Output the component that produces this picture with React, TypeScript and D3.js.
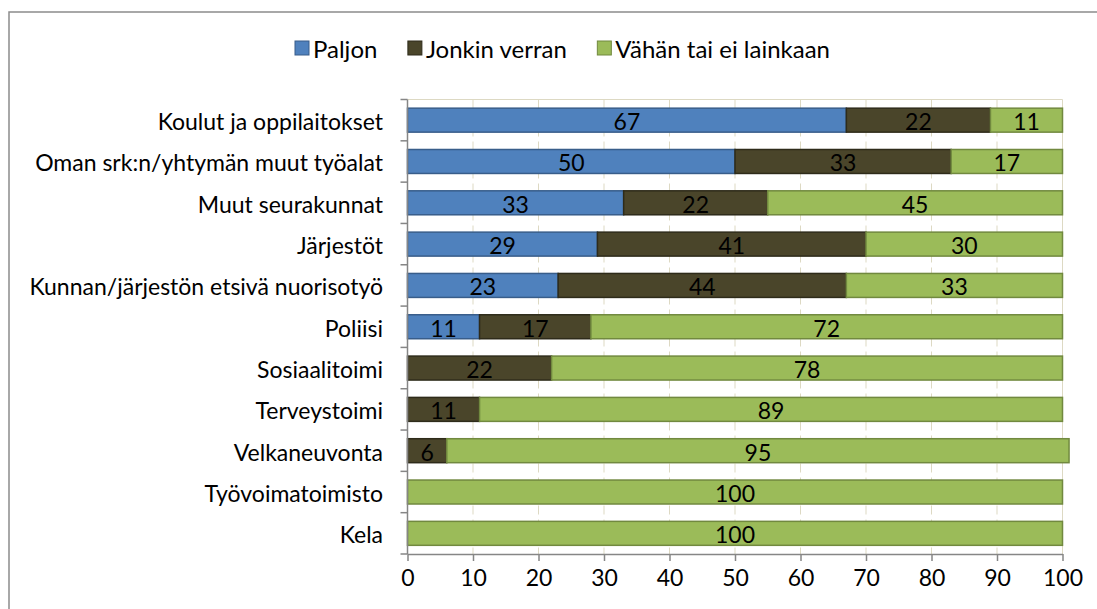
import { useEffect, useRef } from 'react';
import * as d3 from 'd3';

const categories = [
  'Koulut ja oppilaitokset',
  'Oman srk:n/yhtymän muut työalat',
  'Muut seurakunnat',
  'Järjestöt',
  'Kunnan/järjestön etsivä nuorisotyö',
  'Poliisi',
  'Sosiaalitoimi',
  'Terveystoimi',
  'Velkaneuvonta',
  'Työvoimatoimisto',
  'Kela',
];
const seriesNames = ['Paljon', 'Jonkin verran', 'Vähän tai ei lainkaan'];
const paljon = [67, 50, 33, 29, 23, 11, 0, 0, 0, 0, 0];
const jonkinVerran = [22, 33, 22, 41, 44, 17, 22, 11, 6, 0, 0];
const vahan = [11, 17, 45, 30, 33, 72, 78, 89, 95, 100, 100];
const xTicks = [0, 10, 20, 30, 40, 50, 60, 70, 80, 90, 100];

const fills = ['#4F81BD', '#4A452A', '#9BBB59'];
const strokes = ['#385D8A', '#2E2B1A', '#71893F'];
const FONT = 'Lato, "Open Sans", sans-serif';
const FS = 23;

function App() {
  const svgRef = useRef(null);

  useEffect(() => {
    const width = 1097;
    const height = 609;
    const margin = { left: 407.5, right: 1062.5, top: 99.5, bottom: 554 };

    d3.select(svgRef.current).selectAll('*').remove();
    const svg = d3.select(svgRef.current)
      .attr('width', width)
      .attr('height', height)
      .style('font-family', FONT);

    svg.append('rect')
      .attr('x', 9).attr('y', 12)
      .attr('width', 1200).attr('height', 700)
      .attr('fill', 'white')
      .attr('stroke', '#8c8c8c')
      .attr('stroke-width', 1.5);

    const rows = categories.map((c, i) => ({ category: c, values: [paljon[i], jonkinVerran[i], vahan[i]] }));

    const x = d3.scaleLinear().domain([0, 100]).range([margin.left, margin.right]);
    const y = d3.scaleBand().domain(categories).range([margin.top, margin.bottom]).paddingInner(0.42).paddingOuter(0.21);

    // plot area outline + dashed gridlines
    svg.append('path')
      .attr('d', `M${x(0)},${margin.top}H${x(100)}V${margin.bottom}`)
      .attr('fill', 'none')
      .attr('stroke', '#DDD9C3')
      .attr('stroke-width', 1);

    svg.append('g')
      .selectAll('line')
      .data(xTicks.slice(1, -1))
      .join('line')
      .attr('x1', d => x(d)).attr('x2', d => x(d))
      .attr('y1', margin.top).attr('y2', margin.bottom)
      .attr('stroke', '#DDD9C3')
      .attr('stroke-dasharray', '9,5');

    // stacked bars
    const rowG = svg.append('g')
      .selectAll('g.row')
      .data(rows)
      .join('g')
      .attr('class', 'row');

    rowG.each(function (d) {
      const g = d3.select(this);
      let acc = 0;
      d.values.forEach((v, k) => {
        const x0 = acc;
        acc += v;
        if (v <= 0) return;
        g.append('rect')
          .attr('x', x(x0))
          .attr('y', y(d.category))
          .attr('width', x(x0 + v) - x(x0))
          .attr('height', y.bandwidth())
          .attr('fill', fills[k])
          .attr('stroke', strokes[k])
          .attr('stroke-width', 1.5);
        g.append('text')
          .attr('x', (x(x0) + x(x0 + v)) / 2)
          .attr('y', y(d.category) + y.bandwidth() / 2 + 1)
          .attr('text-anchor', 'middle')
          .attr('dominant-baseline', 'central')
          .attr('font-size', FS)
          .attr('fill', '#000')
          .text(v);
      });
    });

    // x axis
    const xAxis = svg.append('g')
      .attr('transform', `translate(0, ${margin.bottom})`)
      .call(d3.axisBottom(x).tickValues(xTicks).tickSize(7).tickSizeOuter(0).tickPadding(9));
    xAxis.select('.domain').attr('stroke', '#868686').attr('stroke-width', 1.5);
    xAxis.selectAll('.tick line').attr('stroke', '#868686').attr('stroke-width', 1.5);
    xAxis.selectAll('.tick text')
      .attr('font-size', FS).attr('font-family', FONT).attr('fill', '#000');

    // y axis: ticks between categories
    const yEdges = categories.map(c => y(c) - (y.step() * y.paddingInner()) / 2).concat([margin.bottom]);
    svg.append('line')
      .attr('x1', x(0)).attr('x2', x(0))
      .attr('y1', margin.top).attr('y2', margin.bottom)
      .attr('stroke', '#868686').attr('stroke-width', 1.5);
    svg.append('g')
      .selectAll('line')
      .data(yEdges)
      .join('line')
      .attr('x1', x(0) - 7).attr('x2', x(0))
      .attr('y1', d => d).attr('y2', d => d)
      .attr('stroke', '#868686').attr('stroke-width', 1.5);

    svg.append('g')
      .selectAll('text')
      .data(categories)
      .join('text')
      .attr('x', 383)
      .attr('y', d => y(d) + y.bandwidth() / 2 + 1)
      .attr('text-anchor', 'end')
      .attr('dominant-baseline', 'central')
      .attr('font-size', FS)
      .attr('fill', '#000')
      .text(d => d);

    // legend: items laid out from measured text widths, spread over the original's span
    const legend = svg.append('g')
      .selectAll('g')
      .data(seriesNames)
      .join('g');
    legend.append('rect')
      .attr('width', 14).attr('height', 14)
      .attr('y', 41)
      .attr('fill', (d, i) => fills[i])
      .attr('stroke', (d, i) => strokes[i])
      .attr('stroke-width', 1);
    const legendText = legend.append('text')
      .attr('x', 18)
      .attr('y', 48)
      .attr('dominant-baseline', 'central')
      .attr('font-size', 24)
      .attr('fill', '#000')
      .text(d => d);
    const widths = legendText.nodes().map(n => 18 + n.getComputedTextLength());
    const spanStart = 295, spanEnd = 830;
    const gap = (spanEnd - spanStart - d3.sum(widths)) / (widths.length - 1);
    let cx = spanStart;
    const offsets = widths.map(w => { const o = cx; cx += w + gap; return o; });
    legend.attr('transform', (d, i) => `translate(${offsets[i]}, 0)`);
  }, []);

  return (
    <svg ref={svgRef} style={{ position: 'absolute', left: 0, top: 0, display: 'block' }} />
  );
}

export default App;
